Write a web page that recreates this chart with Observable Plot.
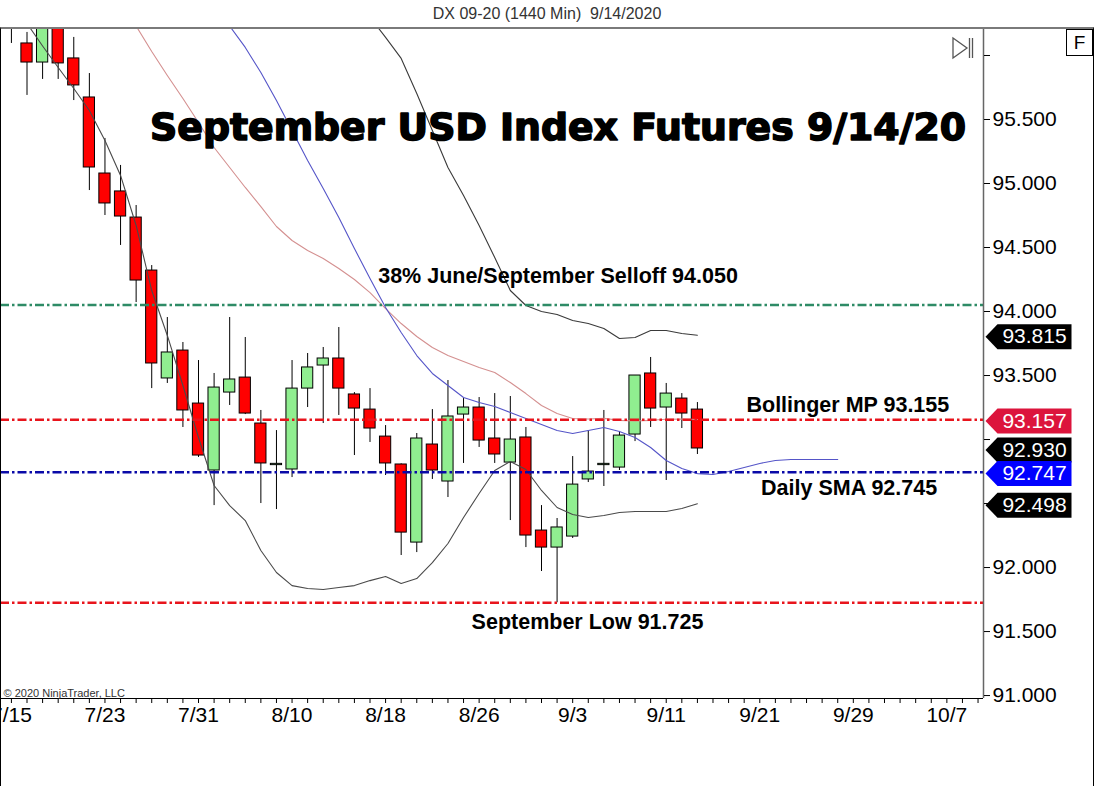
<!DOCTYPE html>
<html>
<head>
<meta charset="utf-8">
<script src="https://cdn.jsdelivr.net/npm/d3@7"></script>
<script src="https://cdn.jsdelivr.net/npm/@observablehq/plot@0.6"></script>
<style>
  html, body { margin: 0; padding: 0; background: #fff; overflow: hidden; }
  #wrap { position: relative; width: 1094px; height: 786px; font-family: "Liberation Sans", Arial, sans-serif; }
  #hdr { position: absolute; left: 0; top: 0; width: 1094px; height: 27px; line-height: 28px; text-align: center; font-size: 16px; color: #333; white-space: pre; }
  #chart { position: absolute; left: 0; top: 29px; }
  #border { position: absolute; left: 0; top: 27px; width: 1092px; height: 757px; border-left: 1px solid #000; border-right: 1px solid #000; border-bottom: 1px solid #000; border-top: 2px solid #7a7a7a; pointer-events: none; }
  #fbox { position: absolute; left: 1066px; top: 29px; width: 25px; height: 25px; border: 1px solid #000; background: #fff; font-size: 19px; line-height: 25px; text-align: center; color: #000; }
  #icon { position: absolute; left: 951px; top: 36px; }
</style>
</head>
<body>
<div id="wrap">
  <div id="hdr">DX 09-20 (1440 Min)  9/14/2020</div>
  <div id="chart"></div>
  <div id="border"></div>
  <div id="fbox">F</div>
  <svg id="icon" width="26" height="24">
    <polygon points="2,2 16,12 2,22" fill="none" stroke="#555" stroke-width="1.3"/>
    <line x1="18.5" y1="2" x2="18.5" y2="22" stroke="#555" stroke-width="1.3"/>
    <line x1="21.5" y1="2" x2="21.5" y2="22" stroke="#555" stroke-width="1.3"/>
  </svg>
</div>
<script>
// ---- data ----
const tickLabels = ["7/15","7/23","7/31","8/10","8/18","8/26","9/3","9/11","9/21","9/29","10/7"];
const tickBars   = [-1, 5, 11, 17, 23, 29, 35, 41, 47, 53, 59];
const yTicks = [91, 91.5, 92, 92.5, 93, 93.5, 94, 94.5, 95, 95.5, 96];
const yHiddenLabels = [92.5, 93, 96]; // covered by price flags / top icons in the reference

// daily bars, first bar = index -1 (7/15)
const firstBar = -1;
const opens  = [96.500,96.094,95.945,96.300,95.977,95.672,95.078,94.938,94.734,94.320,93.477,93.695,93.281,92.758,93.367,93.484,93.125,92.800,92.766,93.398,93.578,93.633,93.352,93.234,93.023,92.805,92.195,92.961,92.672,93.195,93.250,93.008,92.820,93.016,92.289,92.156,92.242,92.688,92.800,92.781,93.039,93.516,93.250,93.320,93.234];
const highs  = [96.600,96.180,96.350,96.400,96.141,95.859,95.352,95.141,94.828,94.359,93.953,93.758,93.617,93.516,93.953,93.797,93.227,93.070,93.617,93.672,93.719,93.875,93.367,93.398,93.109,92.810,93.047,93.234,93.461,93.320,93.328,93.359,93.336,93.094,92.484,92.383,92.867,93.070,93.227,93.063,93.500,93.641,93.438,93.359,93.289];
const lows   = [96.094,95.688,95.813,95.813,95.648,94.945,94.750,94.516,94.070,93.398,93.438,93.094,92.860,92.484,93.266,93.195,92.500,92.453,92.703,93.250,93.125,93.188,92.875,92.977,92.719,92.094,92.117,92.688,92.547,92.813,92.938,92.813,92.367,92.156,91.969,91.725,92.227,92.664,92.633,92.758,92.984,93.094,92.680,93.086,92.883];
const closes = [96.250,95.945,96.250,95.938,95.766,95.125,94.844,94.742,94.242,93.594,93.680,93.227,92.875,93.406,93.469,93.203,92.813,92.810,93.398,93.563,93.633,93.398,93.242,93.086,92.813,92.273,93.008,92.758,93.180,93.250,92.992,92.883,93.000,92.250,92.156,92.313,92.648,92.750,92.810,93.031,93.500,93.242,93.359,93.203,92.930];

// indicator lines (start bar index + values)
const upperStart = 22;
const upperBand = [96.300,96.141,95.977,95.703,95.414,95.125,94.906,94.672,94.422,94.164,94.047,94.000,93.977,93.930,93.906,93.867,93.789,93.797,93.852,93.852,93.828,93.815];
const lowerStart = 0;
const lowerBand = [96.250,96.074,95.906,95.742,95.570,95.336,95.063,94.672,94.164,93.813,93.422,93.016,92.641,92.484,92.367,92.133,91.961,91.859,91.836,91.828,91.844,91.859,91.898,91.930,91.875,91.914,92.039,92.188,92.391,92.578,92.758,92.828,92.766,92.602,92.469,92.414,92.391,92.406,92.430,92.438,92.438,92.438,92.461,92.498];
const smaStart = 13;
const smaLine = [96.230,96.063,95.867,95.648,95.414,95.180,94.961,94.734,94.492,94.258,94.031,93.836,93.656,93.516,93.422,93.328,93.289,93.258,93.211,93.164,93.117,93.070,93.047,93.070,93.094,93.063,93.016,92.938,92.836,92.773,92.734,92.727,92.750,92.781,92.813,92.836,92.844,92.844,92.844,92.844];
const midStart = 7;
const midBand = [96.230,96.031,95.844,95.664,95.477,95.281,95.125,94.969,94.820,94.664,94.555,94.477,94.414,94.336,94.250,94.148,94.023,93.906,93.805,93.719,93.656,93.609,93.563,93.523,93.445,93.359,93.266,93.203,93.164,93.160,93.165,93.150,93.145,93.150,93.158,93.160,93.157];

// horizontal levels
const levelValues = [94.050, 93.155, 92.745, 91.725];
const levelColors = ["#2e8b66", "#e8141c", "#0a0aa8", "#e8141c"];

// price flags on the right axis
const flagValues = [93.815, 93.157, 92.930, 92.747, 92.498];
const flagColors = ["#000000", "#dc143c", "#000000", "#0000ff", "#000000"];

// ---- build tables ----
const bars = opens.map((o, k) => ({i: firstBar + k, o, h: highs[k], l: lows[k], c: closes[k]}));
const series = (start, arr) => arr.map((v, k) => ({i: start + k, v}));
const levels = levelValues.map((v, k) => ({v, color: levelColors[k]}));
const flags = flagValues.map((v, k) => ({v, color: flagColors[k]}));
const labelOf = new Map(tickBars.map((b, k) => [b, tickLabels[k]]));

const xDomain = [-1.70, 61.35];
const yDomain = [90.977, 96.203];
const half = 0.36;

const flagSymbol = {
  draw(ctx) {
    ctx.moveTo(2, 0);
    ctx.lineTo(14, -12.5);
    ctx.lineTo(88, -12.5);
    ctx.lineTo(88, 12.5);
    ctx.lineTo(14, 12.5);
    ctx.closePath();
  }
};

const bold = "'Liberation Sans', Arial, sans-serif";

const chart = Plot.plot({
  width: 1094,
  height: 757,
  marginTop: 0,
  marginBottom: 88,
  marginLeft: 0,
  marginRight: 111,
  x: {domain: xDomain, axis: null},
  y: {domain: yDomain, axis: null},
  color: {type: "identity"},
  style: {fontFamily: "'Liberation Sans', Arial, sans-serif", fontSize: "21px", color: "#000", background: "transparent", overflow: "visible"},
  marks: [
    // candles
    Plot.ruleX(bars, {x: "i", y1: "l", y2: "h", stroke: "#000", strokeWidth: 1, clip: true}),
    Plot.rect(bars, {x1: d => d.i - half, x2: d => d.i + half, y1: "o", y2: "c",
      fill: d => d.c >= d.o ? "#90ee90" : "#ff0000", stroke: "#000", strokeWidth: 1, clip: true}),
    // indicator lines
    Plot.line(series(midStart, midBand), {x: "i", y: "v", stroke: "#d49090", strokeWidth: 1.1, clip: true}),
    Plot.line(series(smaStart, smaLine), {x: "i", y: "v", stroke: "#5555c8", strokeWidth: 1.1, clip: true}),
    Plot.line(series(upperStart, upperBand), {x: "i", y: "v", stroke: "#3a3a3a", strokeWidth: 1.1, clip: true}),
    Plot.line(series(lowerStart, lowerBand), {x: "i", y: "v", stroke: "#4a4a4a", strokeWidth: 1.1, clip: true}),
    // horizontal levels
    Plot.ruleY(levels, {y: "v", stroke: "color", strokeWidth: 2.5, strokeDasharray: "9,3,2.5,3"}),
    // frame lines
    Plot.ruleY([yDomain[0]], {stroke: "#000", strokeWidth: 1}),
    Plot.ruleX([xDomain[1]], {stroke: "#666", strokeWidth: 1.5}),
    // axes
    Plot.axisY({ticks: yTicks, anchor: "right", tickSize: 6, tickPadding: 3, label: null,
      tickFormat: d => yHiddenLabels.includes(d) ? "" : d.toFixed(3), fontSize: 21}),
    Plot.axisX({ticks: d3.range(-1, 62), anchor: "bottom", tickSize: 5, tickPadding: 4, label: null,
      tickFormat: i => labelOf.get(i) ?? "", fontSize: 21}),
    // annotations
    Plot.text(["September USD Index Futures 9/14/20"], {x: 34.06, y: 95.336, text: d => d,
      textAnchor: "middle", lineAnchor: "bottom", fontFamily: "'DejaVu Sans', sans-serif",
      fontWeight: "bold", fontSize: 37.8, fill: "#000", stroke: "#000", strokeWidth: 1.6}),
    Plot.text([`38% June/September Selloff ${levelValues[0].toFixed(3)}`], {x: 34.06, y: levelValues[0], dy: -22,
      text: d => d, textAnchor: "middle", lineAnchor: "bottom", fontFamily: bold, fontWeight: "bold", fontSize: 21.5, fill: "#000"}),
    Plot.text([`Bollinger MP ${levelValues[1].toFixed(3)}`], {x: 52.65, y: levelValues[1], dy: -8,
      text: d => d, textAnchor: "middle", lineAnchor: "bottom", fontFamily: bold, fontWeight: "bold", fontSize: 21.5, fill: "#000"}),
    Plot.text([`Daily SMA ${levelValues[2].toFixed(3)}`], {x: 52.73, y: levelValues[2], dy: 23,
      text: d => d, textAnchor: "middle", lineAnchor: "bottom", fontFamily: bold, fontWeight: "bold", fontSize: 21.5, fill: "#000"}),
    Plot.text([`September Low ${levelValues[3].toFixed(3)}`], {x: 35.95, y: levelValues[3], dy: 26,
      text: d => d, textAnchor: "middle", lineAnchor: "bottom", fontFamily: bold, fontWeight: "bold", fontSize: 21.5, fill: "#000"}),
    Plot.text(["© 2020 NinjaTrader, LLC"], {frameAnchor: "bottom-left", dx: 3, dy: -2, text: d => d,
      textAnchor: "start", lineAnchor: "bottom", fontSize: 11, fill: "#333"}),
    // right-axis price flags
    Plot.dot(flags, {y: "v", frameAnchor: "right", symbol: flagSymbol, fill: "color", stroke: "none", dy: 1.5}),
    Plot.text(flags, {y: "v", frameAnchor: "right", dx: 51, dy: 1.5, text: d => d.v.toFixed(3),
      fill: "#fff", fontSize: 21, textAnchor: "middle"})
  ]
});
document.getElementById("chart").appendChild(chart);
</script>
</body>
</html>
